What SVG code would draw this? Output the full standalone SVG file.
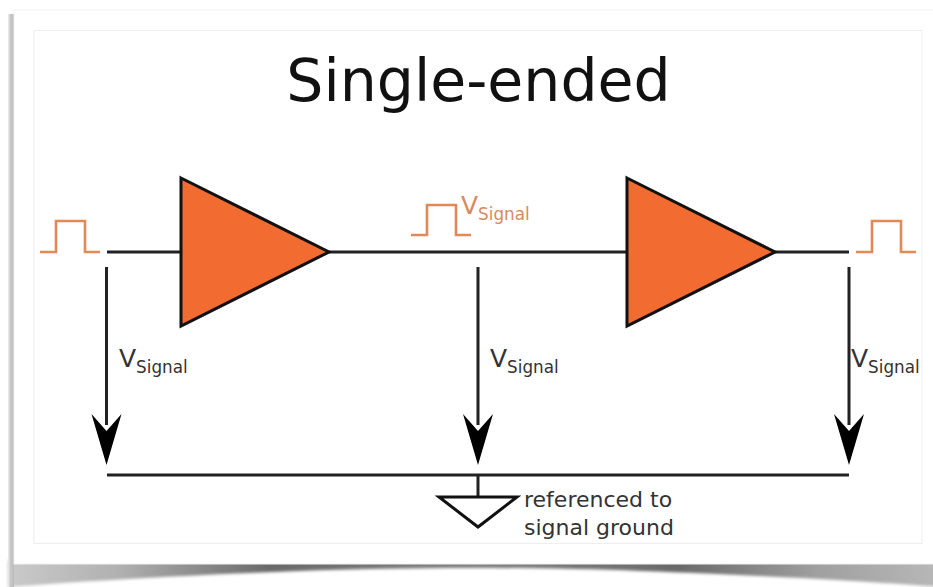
<svg xmlns="http://www.w3.org/2000/svg" width="933" height="587" viewBox="0 0 933 587">
<style>
.w{fill:none;stroke:#222;stroke-width:3}
.p{fill:none;stroke:#e2895a;stroke-width:2.6}
.a{fill:#f26b30;stroke:#111;stroke-width:3;stroke-linejoin:miter}
.t{font-family:"DejaVu Sans",sans-serif;fill:#333}
.o{font-family:"DejaVu Sans",sans-serif;fill:#d9895c}
.h{fill:#000}
.v{font-size:25px}
.s{font-size:16.800px}
</style>
<defs>
<linearGradient id="sh" x1="0" x2="1" y1="0" y2="0"><stop offset="0" stop-color="#cacaca"/><stop offset=".12" stop-color="#b0b0b0"/><stop offset=".28" stop-color="#6a6a6a"/><stop offset=".5" stop-color="#808080"/><stop offset=".72" stop-color="#6a6a6a"/><stop offset=".87" stop-color="#a0a0a0"/><stop offset="1" stop-color="#b8b8b8"/></linearGradient>
<linearGradient id="sl" x1="0" x2="1" y1="0" y2="0"><stop offset="0" stop-color="#eee"/><stop offset=".4" stop-color="#c8c8c8"/><stop offset="1" stop-color="#bbb"/></linearGradient>
<filter id="b" x="-5%" y="-50%" width="110%" height="200%"><feGaussianBlur stdDeviation="1.800"/></filter>
</defs>
<rect width="933" height="587" fill="#fff"/>
<g id="frame">
<path d="M8 560H940V587C880 582 760 575 640 571C540 567 400 567 300 571C180 575 70 582 8 587Z" fill="url(#sh)" filter="url(#b)"/>
<rect x="8" y="14" width="6" height="573" fill="url(#sl)"/>
<rect x="14" y="10" width="925" height="554" fill="#fff" stroke="#f1f1f1"/>
<rect x="34" y="30.500" width="888" height="513" fill="#fff" stroke="#eee"/>
</g>
<g id="title"><text x="478.500" y="101" font-size="58.500" text-anchor="middle" font-family="DejaVu Sans, sans-serif" fill="#111">Single-ended</text></g>
<g id="connectors">
<path class="w" d="M107 252H181M329 252H627M775 252H849M107 475H849M478 475V497"/>
<path class="w" d="M106.500 267V425M478 267V425M849 267V425"/>
<path class="h" d="M91.500 414L106.500 431L121.500 414L106.500 465ZM463 414L478 431L493 414L478 465ZM834 414L849 431L864 414L849 465Z"/>
</g>
<g id="amp1"><path class="a" d="M181 178L329 252L181 326Z"/></g>
<g id="amp2"><path class="a" d="M627 178L775 252L627 326Z"/></g>
<g id="ground"><path d="M439 497H517L478 527Z" fill="#fff" stroke="#111" stroke-width="3"/></g>
<g id="pulses">
<path class="p" d="M40 252H56V221H85V252H100"/>
<path class="p" d="M411 235H427V205H456V235H471"/>
<path class="p" d="M856 252H872V221H901V252H916"/>
</g>
<g id="labels">
<text class="o" x="461" y="214"><tspan class="v">V</tspan><tspan class="s" dy="6">Signal</tspan></text>
<text class="t" x="119" y="367"><tspan class="v">V</tspan><tspan class="s" dy="6">Signal</tspan></text>
<text class="t" x="490" y="367"><tspan class="v">V</tspan><tspan class="s" dy="6">Signal</tspan></text>
<text class="t" x="851" y="367"><tspan class="v">V</tspan><tspan class="s" dy="6">Signal</tspan></text>
<text class="t" x="524" y="507" font-size="22">referenced to</text>
<text class="t" x="524" y="535" font-size="22">signal ground</text>
</g>
</svg>
